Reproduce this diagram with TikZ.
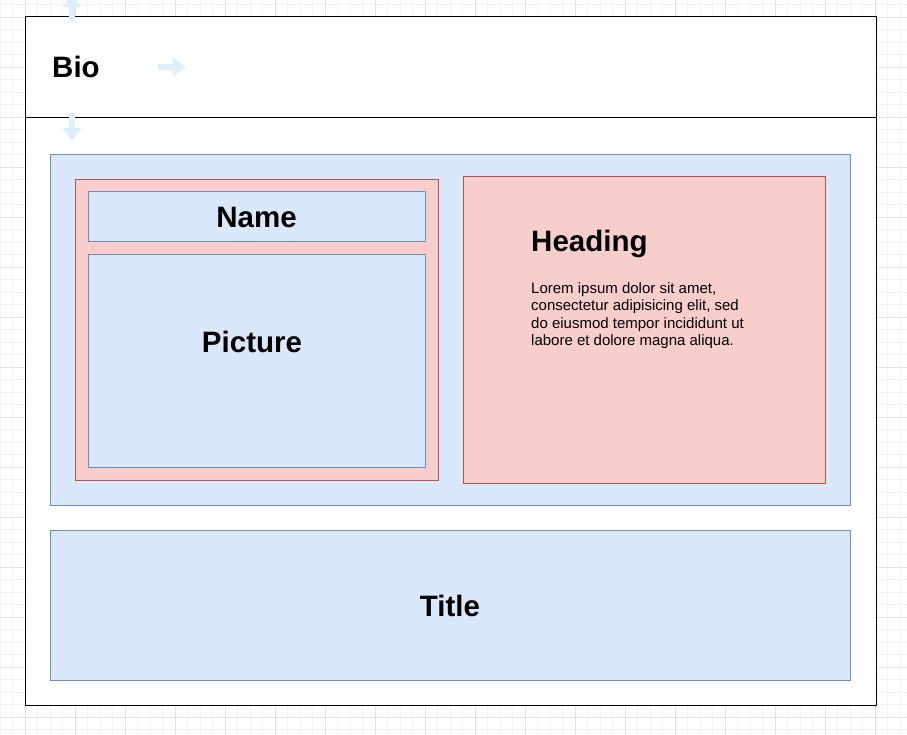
\documentclass[tikz,border=0pt]{standalone}
\usepackage{fontspec}
\setmainfont{Liberation Sans}
\usetikzlibrary{arrows.meta}
\definecolor{blueFill}{HTML}{DAE8FC}
\definecolor{blueLine}{HTML}{6C8EBF}
\definecolor{redFill}{HTML}{F8CECC}
\definecolor{redLine}{HTML}{B85450}
\definecolor{gridMinor}{HTML}{F3F3F3}
\definecolor{gridMajor}{HTML}{E2E2E2}
\definecolor{handle}{HTML}{DCEFFA}
\tikzstyle{frame} = [rectangle, 
draw=black, 
fill=white, 
line width=1pt, 
inner sep=0pt]
\tikzstyle{bluebox} = [rectangle, 
draw=blueLine, 
fill=blueFill, 
line width=1pt, 
inner sep=0pt]
\tikzstyle{redbox} = [rectangle, 
draw=redLine, 
fill=redFill, 
line width=1pt, 
inner sep=0pt]
\tikzstyle{bigText} = [font=\fontsize{29.5}{34}\selectfont\bfseries, inner sep=0pt]
\tikzstyle{bodyText} = [font=\fontsize{15}{17.5}\selectfont, inner sep=0pt, align=left]
\tikzstyle{handleArrow} = [draw=handle, line width=6pt, -{Triangle[width=18pt,length=13pt]}]

\begin{document}
\begin{tikzpicture}[x=1pt, y=-1pt]
			\useasboundingbox (0,0) rectangle (907,735);
			\clip (0,0) rectangle (907,735);
			% grid behind the page
			\foreach \gx in {0,12.5,...,907} \draw [gridMinor] (\gx,0) -- (\gx,735);
			\foreach \gy in {4.5,17,...,735} \draw [gridMinor] (0,\gy) -- (907,\gy);
			\foreach \gx in {25,75,...,907} \draw [gridMajor] (\gx,0) -- (\gx,735);
			\foreach \gy in {17,67,...,735} \draw [gridMajor] (0,\gy) -- (907,\gy);
			
			\node (bioHead)[frame, minimum width=851pt, minimum height=101pt] at (450.5,67.5) {};
			\node (bioBody)[frame, minimum width=851pt, minimum height=587pt] at (450.5,411.5) {};
			\node (bio)[bigText, anchor=base west] at (52,78) {Bio};
			
			\node (content)[bluebox, minimum width=800pt, minimum height=350pt] at (450,330) {};
			\node (profile)[redbox, minimum width=363pt, minimum height=300pt] at (256.5,330) {};
			\node (name)[bluebox, minimum width=337pt, minimum height=50pt] at (256.5,217) {};
			\node (nameText)[bigText, anchor=base] at (256.5,228) {Name};
			\node (picture)[bluebox, minimum width=337pt, minimum height=212pt] at (256.5,361) {};
			\node (pictureText)[bigText, anchor=base] at (252,352) {Picture};
			
			\node (article)[redbox, minimum width=362pt, minimum height=306pt] at (644,330) {};
			\node (heading)[bigText, anchor=base west] at (531,252) {Heading};
			% base of a multi-line node is its last line
			\node (lorem)[bodyText, anchor=base west] at (531,345.5) {Lorem ipsum dolor sit amet,\\consectetur adipisicing elit, sed\\do eiusmod tempor incididunt ut\\labore et dolore magna aliqua.};
			
			\node (title)[bluebox, minimum width=800pt, minimum height=150pt] at (450,605) {};
			\node (titleText)[bigText, anchor=base] at (450,616) {Title};
			
			% faint drag handles around the header
			\coordinate (upEnd) at (72,-6);
			\coordinate (rightEnd) at (186,67);
			\coordinate (downEnd) at (72,141);
			\draw [handleArrow] (bioHead.north west -| upEnd) ++(0,3) -- (upEnd);
			\draw [handleArrow] (158,67) -- (rightEnd);
			\draw [handleArrow] (bioHead.south west -| downEnd) ++(0,-5) -- (downEnd);
		\end{tikzpicture}
\end{document}
